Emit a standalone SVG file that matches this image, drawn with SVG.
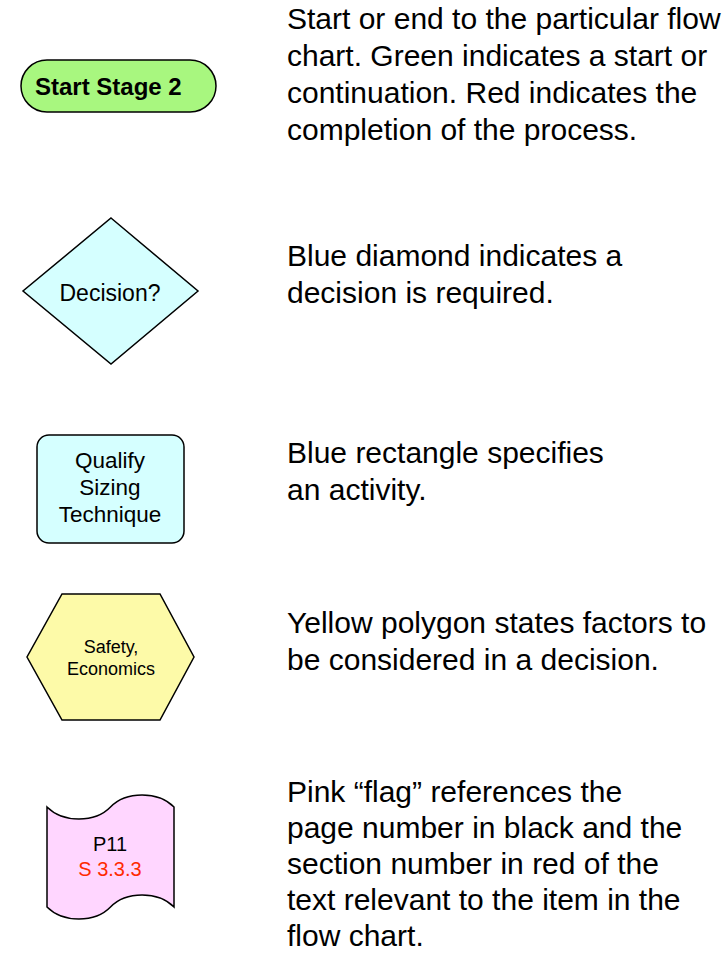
<svg xmlns="http://www.w3.org/2000/svg" width="723" height="954" viewBox="0 0 723 954">
<style>
.shape{stroke:#000;stroke-width:1.5}
.lbl{font-family:"Liberation Sans",Arial,sans-serif;fill:#000}
.desc{font-family:"Liberation Sans",Arial,sans-serif;font-size:30px;fill:#000}
</style>
<rect width="723" height="954" fill="#fff"/>
<g id="node-start">
<rect class="shape" x="21" y="60" width="195" height="52" rx="26" fill="#a8f77f"/>
<text class="lbl" x="35" y="95" font-size="24" font-weight="bold">Start Stage 2</text>
</g>
<g id="node-decision">
<polygon class="shape" points="111,218 198,291 111,364 23,291" fill="#d5ffff"/>
<text class="lbl" x="110" y="301" font-size="23" text-anchor="middle">Decision?</text>
</g>
<g id="node-activity">
<rect class="shape" x="37" y="435" width="147" height="108" rx="12" fill="#d5ffff"/>
<text class="lbl" x="110" y="468" font-size="22.5" text-anchor="middle">Qualify</text>
<text class="lbl" x="110" y="495" font-size="22.5" text-anchor="middle">Sizing</text>
<text class="lbl" x="110" y="522" font-size="22.5" text-anchor="middle">Technique</text>
</g>
<g id="node-factors">
<polygon class="shape" points="62,594 160,594 194,657 160,720 62,720 27,657" fill="#fdfaa8"/>
<text class="lbl" x="111" y="653" font-size="18" text-anchor="middle">Safety,</text>
<text class="lbl" x="111" y="675" font-size="18" text-anchor="middle">Economics</text>
</g>
<g id="node-flag">
<path class="shape" d="M47,807 C63,823 95,823 110.5,807 C126,791 158,791 174,807 L174,907 C158,891 126,891 110.5,907 C95,923 63,923 47,907 Z" fill="#ffd6ff"/>
<text class="lbl" x="110" y="851" font-size="20" text-anchor="middle">P11</text>
<text class="lbl" x="110" y="876" font-size="20" text-anchor="middle" style="fill:#ff2a00">S 3.3.3</text>
</g>
<g id="connectors"></g>
<g id="descriptions">
<text class="desc" x="287" y="29">Start or end to the particular flow</text>
<text class="desc" x="287" y="66">chart. Green indicates a start or</text>
<text class="desc" x="287" y="103">continuation. Red indicates the</text>
<text class="desc" x="287" y="140">completion of the process.</text>
<text class="desc" x="287" y="266">Blue diamond indicates a</text>
<text class="desc" x="287" y="303">decision is required.</text>
<text class="desc" x="287" y="463">Blue rectangle specifies</text>
<text class="desc" x="287" y="500">an activity.</text>
<text class="desc" x="287" y="633">Yellow polygon states factors to</text>
<text class="desc" x="287" y="670">be considered in a decision.</text>
<text class="desc" x="287" y="802">Pink “flag” references the</text>
<text class="desc" x="287" y="838">page number in black and the</text>
<text class="desc" x="287" y="874">section number in red of the</text>
<text class="desc" x="287" y="910">text relevant to the item in the</text>
<text class="desc" x="287" y="946">flow chart.</text>
</g>
</svg>
